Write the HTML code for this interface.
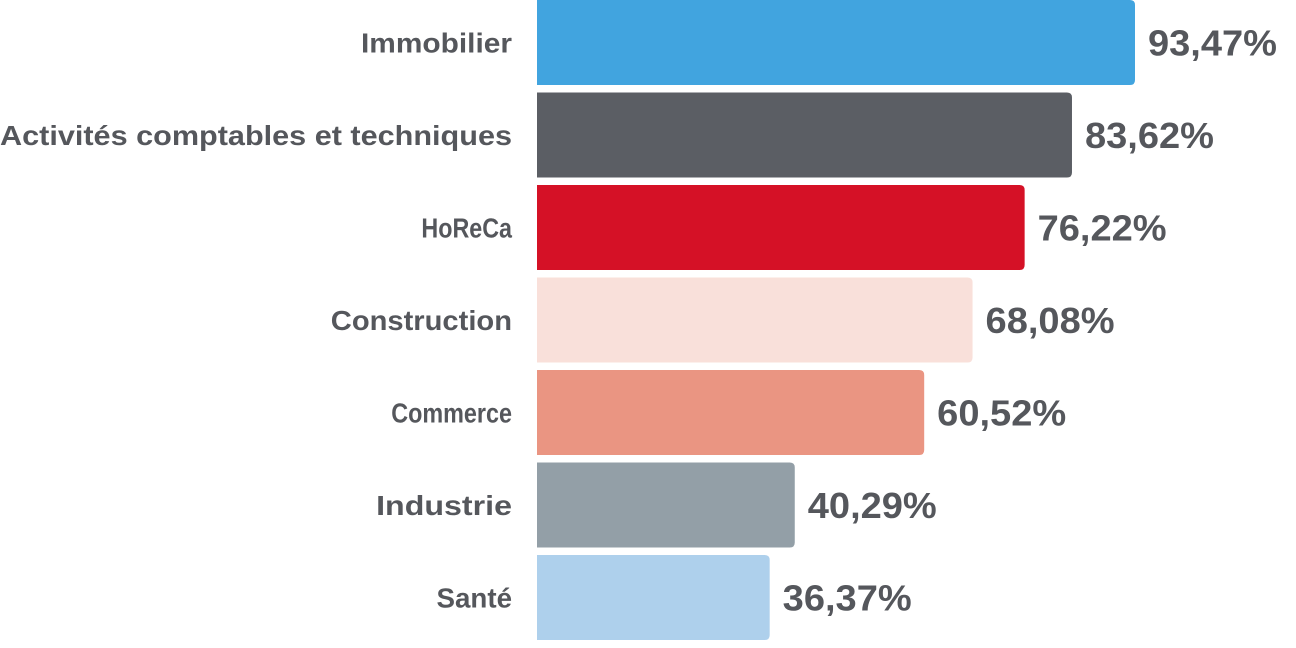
<!DOCTYPE html>
<html><head><meta charset="utf-8"><style>
html,body{margin:0;padding:0;background:#fff;width:1296px;height:648px;overflow:hidden}
svg text{font-family:"Liberation Sans",sans-serif;font-weight:bold;fill:#55575c}
</style></head><body>
<svg id="chart" width="1296" height="648" xmlns="http://www.w3.org/2000/svg"></svg>
<script>
const categories = ["Immobilier","Activités comptables et techniques","HoReCa","Construction","Commerce","Industrie","Santé"];
const values = [93.47,83.62,76.22,68.08,60.52,40.29,36.37];
const valueLabels = ["93,47%","83,62%","76,22%","68,08%","60,52%","40,29%","36,37%"];
const colors = ["#41a4df","#5b5e64","#d51126","#f9e0da","#ea9582","#939fa7","#aed0ec"];
const svg = document.getElementById('chart');
const NS = "http://www.w3.org/2000/svg";
const x0 = 537, pxPerUnit = (1135-537)/93.47;
const xScale = v => v*pxPerUnit;
const step = 92.5, barH = 85, top0 = 0;
const yScale = i => top0 + i*step;
function labelWidth(s){ // approximate condensed width
  return s.length*15.1;
}
categories.forEach((c,i)=>{
  const y = yScale(i), w = xScale(values[i]);
  const g = document.createElementNS(NS,'g');
  
  
  const p = document.createElementNS(NS,'path');
  const r = 5;
  p.setAttribute('d',`M${x0},${y} H${x0+w-r} Q${x0+w},${y} ${x0+w},${y+r} V${y+barH-r} Q${x0+w},${y+barH} ${x0+w-r},${y+barH} H${x0} Z`);
  p.setAttribute('fill',colors[i]);
  
  
  g.appendChild(p);
  const t = document.createElementNS(NS,'text');
  t.setAttribute('x',512); t.setAttribute('y',y+barH/2+10);
  t.setAttribute('text-anchor','end'); t.setAttribute('font-size','28');
  const lw = c==="Activités comptables et techniques"?512:labelWidth(c);
  t.setAttribute('textLength',lw); t.setAttribute('lengthAdjust','spacingAndGlyphs');
  t.textContent = c;
  
  
  g.appendChild(t);
  const v = document.createElementNS(NS,'text');
  v.setAttribute('x',x0+w+13); v.setAttribute('y',y+barH/2+13);
  v.setAttribute('font-size','36');
  v.setAttribute('textLength',129); v.setAttribute('lengthAdjust','spacingAndGlyphs');
  v.textContent = valueLabels[i];
  
  
  g.appendChild(v);
  svg.appendChild(g);
});
</script>
</body></html>
